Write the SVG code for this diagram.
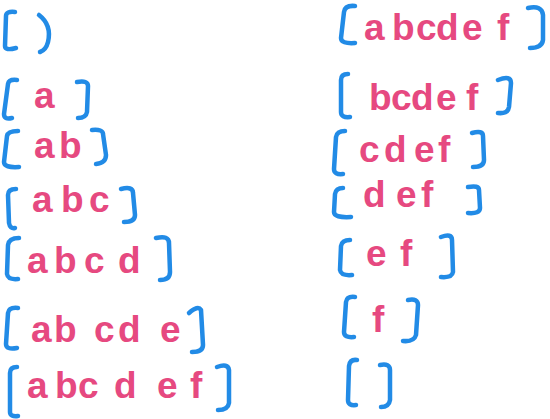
<svg xmlns="http://www.w3.org/2000/svg" width="550" height="419" viewBox="0 0 550 419">
<style>
.br{fill:none;stroke:#228be6;stroke-width:4.5;stroke-linecap:round;stroke-linejoin:round}
.t{fill:#e64980;font-family:"Liberation Sans",Arial,sans-serif;font-weight:bold;font-size:37px}
</style>
<rect width="550" height="419" fill="#ffffff"/>
<g id="prefixes">
<g id="p0">
<path class="br" d="M15,12 Q6,11 6,16 L5,46 Q5,51 16,48"/>
<path class="br" d="M39,15 Q52,25 48,42 Q46,50 40,52"/>
</g>
<g id="p1">
<path class="br" d="M17,80 Q9,79 8,84 L4,114 Q4,120 12,118"/>
<path class="br" d="M77,82 Q88,80 88,86 L87,112 Q86,118 78,118"/>
<text class="t" x="34" y="108">a</text>
</g>
<g id="p2">
<path class="br" d="M18,131 Q8,131 7,136 L4,162 Q4,168 19,167"/>
<path class="br" d="M92,130 Q103,129 103,134 L106,155 Q106,163 96,164"/>
<text class="t" x="34 59" y="158">ab</text>
</g>
<g id="p3">
<path class="br" d="M16,189 Q8,189 8,195 L9,223 Q10,229 15,228"/>
<path class="br" d="M121,189 Q133,186 133,193 L135,215 Q135,222 124,222"/>
<text class="t" x="32 61 89" y="212">abc</text>
</g>
<g id="p4">
<path class="br" d="M19,238 Q9,238 8,245 L7,274 Q8,280 18,279"/>
<path class="br" d="M156,238 Q169,235 169,243 L170,272 Q170,280 160,280"/>
<text class="t" x="27 54 84 118" y="273">abcd</text>
</g>
<g id="p5">
<path class="br" d="M18,308 Q9,307 8,313 L6,344 Q6,350 17,348"/>
<path class="br" d="M189,313 Q198,305 201,310 L203,345 Q203,352 192,352"/>
<text class="t" x="31 54 94 118 160" y="342">abcde</text>
</g>
<g id="p6">
<path class="br" d="M17,367 Q10,367 10,373 L10,412 Q10,417 18,416"/>
<path class="br" d="M217,367 Q228,363 229,370 L229,403 Q228,410 218,410"/>
<text class="t" x="27 55 78 114 157 190" y="398">abcdef</text>
</g>
</g>
<g id="suffixes">
<g id="s0">
<path class="br" d="M355,6 Q345,5 344,12 L341,38 Q341,44 355,43"/>
<path class="br" d="M528,8 Q542,5 543,15 L543,40 Q542,48 530,48"/>
<text class="t" x="364 392 416 436 462 497" y="40">abcdef</text>
</g>
<g id="s1">
<path class="br" d="M348,74 Q341,74 341,80 L341,112 Q341,118 350,117"/>
<path class="br" d="M498,80 Q511,75 511,83 L509,107 Q508,114 498,113"/>
<text class="t" x="369 391 411 436 466" y="110">bcdef</text>
</g>
<g id="s2">
<path class="br" d="M345,131 Q337,131 336,137 L334,169 Q334,175 343,174"/>
<path class="br" d="M472,133 Q483,130 483,136 L484,160 Q484,167 473,167"/>
<text class="t" x="359 384 414 438" y="162">cdef</text>
</g>
<g id="s3">
<path class="br" d="M343,188 Q336,188 335,194 L334,212 Q334,218 351,217"/>
<path class="br" d="M468,187 Q479,185 479,190 L480,208 Q480,214 468,213"/>
<text class="t" x="363 396 421" y="207">def</text>
</g>
<g id="s4">
<path class="br" d="M350,240 Q342,240 341,246 L340,270 Q341,276 352,275"/>
<path class="br" d="M441,237 Q452,233 452,240 L453,272 Q452,278 441,277"/>
<text class="t" x="366 400" y="266">ef</text>
</g>
<g id="s5">
<path class="br" d="M355,297 Q347,296 346,302 L344,332 Q344,338 354,337"/>
<path class="br" d="M408,300 Q418,298 418,305 L416,335 Q414,342 403,341"/>
<text class="t" x="372" y="332">f</text>
</g>
<g id="s6">
<path class="br" d="M357,360 Q350,359 349,366 L348,400 Q348,406 356,405"/>
<path class="br" d="M380,365 Q390,363 390,370 L390,400 Q389,407 381,407"/>
</g>
</g>
</svg>
